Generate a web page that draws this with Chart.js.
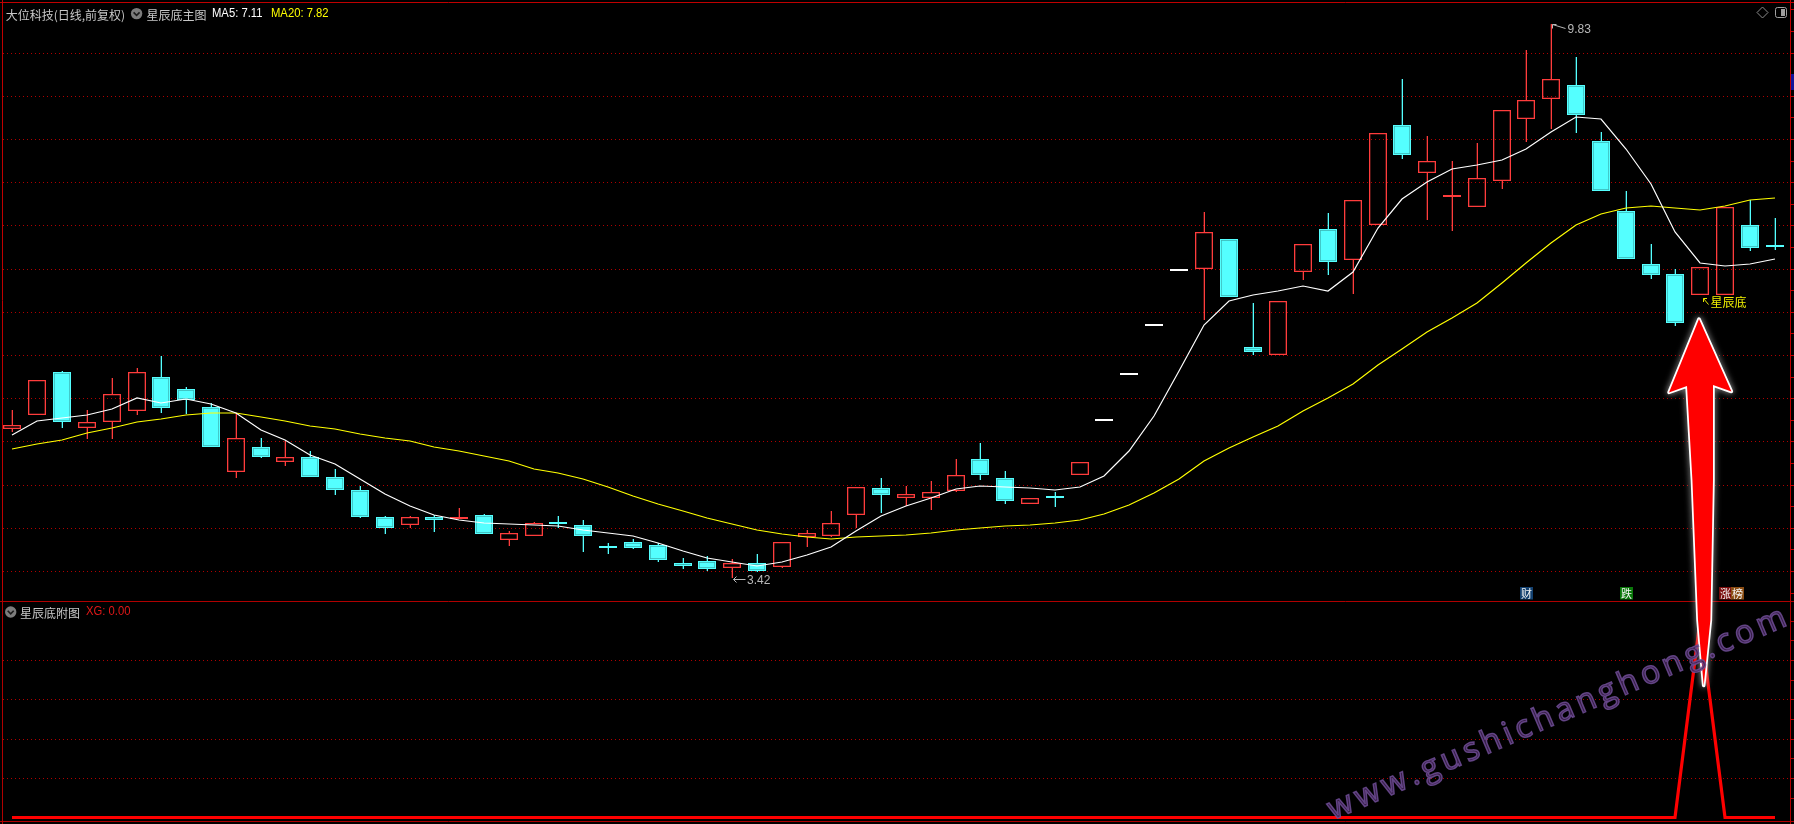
<!DOCTYPE html>
<html>
<head>
<meta charset="utf-8">
<script src="https://cdn.jsdelivr.net/npm/chart.js@4.4.0/dist/chart.umd.min.js"></script>
<style>
  body { margin: 0; background: #000; }
  #wrap { position: relative; width: 1794px; height: 824px; overflow: hidden; background: #000; }
  canvas { position: absolute; left: 0; }
  .t { position: absolute; white-space: nowrap; line-height: 16px; }
  .cjk { font: 12px "Noto Sans CJK SC", sans-serif; }
  .num { font: 12.5px "Liberation Sans", sans-serif; transform: scaleX(0.9); transform-origin: 0 50%; }
</style>
</head>
<body>
<div id="wrap">
  <canvas id="main" width="1794" height="601" style="top:0"></canvas>
  <canvas id="sub" width="1794" height="223" style="top:601px"></canvas>
  <canvas id="over" width="1794" height="824" style="top:0"></canvas>
  <div class="t cjk" style="left:5.7px;top:5.5px;color:#c8c8c8">大位科技(日线,前复权)</div>
  <div class="t cjk" style="left:146.6px;top:5.5px;color:#c8c8c8">星辰底主图</div>
  <div class="t num" id="ma5t" style="left:212.4px;top:5.5px;color:#ffffff"></div>
  <div class="t num" id="ma20t" style="left:271px;top:5.5px;color:#ffff00"></div>
  <div class="t cjk" style="left:19.9px;top:603.5px;color:#c8c8c8">星辰底附图</div>
  <div class="t num" id="xgt" style="left:86px;top:603.5px;color:#e01818"></div>
</div>
<script>
// daily candles
const opens = [
  5.14, 5.31, 5.80, 5.15, 5.22, 5.35, 5.75, 5.61, 5.40, 4.65,
  4.94, 4.76, 4.82, 4.59, 4.44, 4.12, 4.03, 4.12, 4.10, 4.15,
  3.86, 3.90, 4.06, 4.03, 3.79, 3.84, 3.80, 3.59, 3.62, 3.53,
  3.59, 3.55, 3.89, 3.91, 4.15, 4.46, 4.35, 4.35, 4.43, 4.80,
  4.58, 4.28, 4.37, 4.61, 5.24, 5.77, 6.34, 6.97, 7.00, 7.34,
  6.09, 6.00, 6.96, 7.46, 7.10, 7.50, 8.66, 8.11, 7.83, 7.71,
  8.01, 8.73, 8.96, 9.13, 8.48, 7.67, 7.05, 6.94, 6.69, 6.70,
  7.50, 7.27];
const highs = [
  5.36, 5.71, 5.82, 5.36, 5.73, 5.85, 5.99, 5.63, 5.44, 5.33,
  5.04, 5.00, 4.89, 4.68, 4.48, 4.14, 4.14, 4.15, 4.23, 4.16,
  3.96, 4.07, 4.14, 4.09, 3.82, 3.87, 3.82, 3.65, 3.67, 3.64,
  3.70, 3.84, 3.97, 4.19, 4.47, 4.58, 4.48, 4.54, 4.80, 4.98,
  4.66, 4.35, 4.41, 4.76, 5.24, 5.77, 6.34, 6.97, 7.66, 7.34,
  6.60, 6.62, 7.28, 7.64, 7.79, 8.57, 9.19, 8.54, 8.25, 8.45,
  8.84, 9.53, 9.83, 9.45, 8.58, 7.90, 7.28, 7.00, 7.02, 7.71,
  7.79, 7.59];
const lows = [
  5.11, 5.31, 5.15, 5.03, 5.03, 5.31, 5.33, 5.32, 4.94, 4.58,
  4.81, 4.72, 4.59, 4.38, 4.11, 3.93, 4.00, 3.95, 4.10, 3.93,
  3.79, 3.90, 4.00, 3.72, 3.70, 3.75, 3.60, 3.52, 3.50, 3.42,
  3.49, 3.54, 3.78, 3.89, 4.00, 4.17, 4.25, 4.21, 4.41, 4.55,
  4.27, 4.27, 4.24, 4.61, 5.24, 5.77, 6.34, 6.97, 6.41, 6.67,
  6.00, 6.00, 6.87, 6.93, 6.71, 7.50, 8.27, 7.56, 7.43, 7.71,
  7.92, 8.46, 8.62, 8.57, 7.90, 7.11, 6.88, 6.34, 6.69, 6.70,
  7.20, 7.21];
const closes = [
  5.19, 5.71, 5.22, 5.22, 5.55, 5.80, 5.39, 5.48, 4.94, 5.04,
  4.82, 4.82, 4.59, 4.44, 4.12, 4.00, 4.12, 4.09, 4.13, 3.93,
  3.94, 4.05, 4.04, 3.90, 3.77, 3.77, 3.63, 3.56, 3.52, 3.59,
  3.50, 3.84, 3.94, 4.05, 4.47, 4.38, 4.39, 4.42, 4.61, 4.61,
  4.31, 4.35, 4.34, 4.76, 5.24, 5.77, 6.34, 6.97, 7.42, 6.67,
  6.03, 6.62, 7.28, 7.08, 7.79, 8.57, 8.31, 8.24, 7.84, 8.05,
  8.84, 8.95, 9.20, 8.78, 7.90, 7.11, 6.93, 6.37, 7.02, 7.71,
  7.24, 7.25];

const ma5 = [
  5.08, 5.24, 5.27, 5.30, 5.38, 5.50, 5.44, 5.49, 5.43, 5.33,
  5.13, 5.02, 4.84, 4.74, 4.56, 4.39, 4.25, 4.15, 4.09, 4.05,
  4.04, 4.03, 4.02, 3.97, 3.94, 3.91, 3.82, 3.73, 3.65, 3.61,
  3.56, 3.60, 3.68, 3.78, 3.96, 4.14, 4.25, 4.34, 4.45, 4.48,
  4.47, 4.46, 4.44, 4.47, 4.60, 4.89, 5.29, 5.82, 6.35, 6.63,
  6.69, 6.74, 6.80, 6.74, 6.96, 7.47, 7.81, 8.00, 8.15, 8.20,
  8.26, 8.38, 8.58, 8.76, 8.73, 8.39, 7.98, 7.42, 7.07, 7.03,
  7.05, 7.11];
const ma20 = [
  4.91, 4.97, 5.02, 5.10, 5.16, 5.22, 5.26, 5.30, 5.33, 5.33,
  5.28, 5.24, 5.18, 5.14, 5.09, 5.04, 5.00, 4.94, 4.89, 4.83,
  4.77, 4.68, 4.63, 4.56, 4.47, 4.37, 4.28, 4.19, 4.11, 4.04,
  3.98, 3.93, 3.89, 3.87, 3.89, 3.91, 3.92, 3.94, 3.97, 4.00,
  4.02, 4.03, 4.05, 4.09, 4.16, 4.26, 4.40, 4.57, 4.77, 4.92,
  5.05, 5.18, 5.35, 5.50, 5.67, 5.88, 6.07, 6.27, 6.43, 6.60,
  6.83, 7.06, 7.30, 7.50, 7.63, 7.70, 7.73, 7.70, 7.68, 7.73,
  7.79, 7.82];

// sub panel signal (XG)
const xg = [
  0, 0, 0, 0, 0, 0, 0, 0, 0, 0,
  0, 0, 0, 0, 0, 0, 0, 0, 0, 0,
  0, 0, 0, 0, 0, 0, 0, 0, 0, 0,
  0, 0, 0, 0, 0, 0, 0, 0, 0, 0,
  0, 0, 0, 0, 0, 0, 0, 0, 0, 0,
  0, 0, 0, 0, 0, 0, 0, 0, 0, 0,
  0, 0, 0, 0, 0, 0, 0, 0, 1, 0,
  0, 0];

const priceGrid = [3.5, 4.0, 4.5, 5.0, 5.5, 6.0, 6.5, 7.0, 7.5, 8.0, 8.5, 9.0, 9.5];
const subGrid = [0.2, 0.4, 0.6, 0.8];
const signalIndex = 68;          // 星辰底
const markerIndex = [61, 65, 69];
const markerText = ['财', '跌', '涨榜'];

const days = opens.map((_, i) => i);
const UP = '#ff3c3c', DOWN = '#54ffff', FLAT = '#ffffff';
const colorOf = i => closes[i] > opens[i] ? UP : (closes[i] < opens[i] ? DOWN : FLAT);
const badgeBg = { '财': '#12406f', '跌': '#0a780a', '涨': '#7a0c0c', '榜': '#8a4c12' };
const GRID = '#b00000', FRAME = '#c00000';
const xAxis = () => ({ type: 'linear', min: -0.5, max: 71.78, bounds: 'data', offset: false, alignToPixels: true, display: false });

document.getElementById('ma5t').textContent = 'MA5: ' + ma5[ma5.length - 1].toFixed(2);
document.getElementById('ma20t').textContent = 'MA20: ' + ma20[ma20.length - 1].toFixed(2);
document.getElementById('xgt').textContent = 'XG: ' + xg[xg.length - 1].toFixed(2);

function dotted(ctx, y, x0, x1) {
  ctx.beginPath(); ctx.moveTo(x0, y); ctx.lineTo(x1, y); ctx.stroke();
}

function chevron(ctx, cx, cy) {
  ctx.fillStyle = '#7c7c7c';
  ctx.beginPath(); ctx.arc(cx, cy, 5.7, 0, Math.PI * 2); ctx.fill();
  ctx.strokeStyle = '#1c1c1c'; ctx.lineWidth = 1.6;
  ctx.beginPath(); ctx.moveTo(cx - 3, cy - 1.2); ctx.lineTo(cx, cy + 1.8); ctx.lineTo(cx + 3, cy - 1.2); ctx.stroke();
}

const mainDecor = {
  id: 'mainDecor',
  beforeDatasetsDraw(chart) {
    const { ctx, scales: { y } } = chart;
    ctx.save();
    ctx.strokeStyle = GRID; ctx.lineWidth = 1; ctx.setLineDash([1, 3]);
    priceGrid.forEach(v => dotted(ctx, Math.round(y.getPixelForValue(v)) + 0.5, 3, 1790));
    ctx.restore();
  },
  afterDatasetsDraw(chart) {
    const { ctx, scales: { x, y } } = chart;
    ctx.save();
    // frame
    ctx.strokeStyle = FRAME; ctx.lineWidth = 1;
    ctx.beginPath();
    ctx.moveTo(0, 2.5); ctx.lineTo(1794, 2.5);
    ctx.moveTo(2.5, 0); ctx.lineTo(2.5, 601);
    ctx.moveTo(1790.5, 0); ctx.lineTo(1790.5, 601);
    for (let v = 3.25; v < 10.05; v += 0.25) {
      const py = Math.round(y.getPixelForValue(v)) + 0.5;
      ctx.moveTo(1791, py); ctx.lineTo(1794, py);
    }
    ctx.stroke();
    ctx.fillStyle = '#14149a'; ctx.fillRect(1791, 74, 3, 16);

    // highest / lowest price marks
    ctx.strokeStyle = '#b8b8b8'; ctx.fillStyle = '#b8b8b8'; ctx.lineWidth = 1;
    ctx.font = '12px "Liberation Sans", sans-serif'; ctx.textBaseline = 'middle';
    const hi = highs.indexOf(Math.max(...highs));
    const hx = x.getPixelForValue(hi) + 0.5, hy = y.getPixelForValue(highs[hi]) + 0.5;
    ctx.beginPath();
    ctx.moveTo(hx + 1, hy); ctx.lineTo(hx + 14, hy + 4);
    ctx.moveTo(hx + 1, hy); ctx.lineTo(hx + 1, hy + 4);
    ctx.moveTo(hx + 1, hy); ctx.lineTo(hx + 5, hy);
    ctx.stroke();
    ctx.fillText(highs[hi].toFixed(2), hx + 16, hy + 5);
    const lo = lows.indexOf(Math.min(...lows));
    const lx = x.getPixelForValue(lo) + 0.5, ly = y.getPixelForValue(lows[lo]) + 0.5;
    ctx.beginPath();
    ctx.moveTo(lx + 1, ly + 1); ctx.lineTo(lx + 13, ly + 1);
    ctx.moveTo(lx + 1, ly + 1); ctx.lineTo(lx + 4, ly - 2);
    ctx.moveTo(lx + 1, ly + 1); ctx.lineTo(lx + 4, ly + 4);
    ctx.stroke();
    ctx.fillText(lows[lo].toFixed(2), lx + 14.5, ly + 2);

    // 星辰底 signal label
    const sx = x.getPixelForValue(signalIndex) + 0.5, sy = y.getPixelForValue(lows[signalIndex]) + 0.5;
    ctx.strokeStyle = '#e8e800'; ctx.fillStyle = '#f0f000';
    ctx.beginPath();
    ctx.moveTo(sx + 3, sy + 3); ctx.lineTo(sx + 8, sy + 9);
    ctx.moveTo(sx + 3, sy + 3); ctx.lineTo(sx + 3, sy + 6.5);
    ctx.moveTo(sx + 3, sy + 3); ctx.lineTo(sx + 6.5, sy + 3);
    ctx.stroke();
    ctx.font = '12px "Noto Sans CJK SC", sans-serif';
    ctx.fillText('星辰底', sx + 10, sy + 6.5);

    // event badges along the bottom
    ctx.font = '11px "Noto Sans CJK SC", sans-serif'; ctx.textAlign = 'center';
    markerIndex.forEach((idx, k) => {
      const cx = x.getPixelForValue(idx);
      [...markerText[k]].forEach((ch, j) => {
        const left = Math.round(cx - 6.5 + j * 12.7);
        ctx.fillStyle = badgeBg[ch]; ctx.fillRect(left, 587, 13, 12.5);
        ctx.fillStyle = '#f4f4f4'; ctx.fillText(ch, left + 6.5, 593.5);
      });
    });

    // header widgets
    chevron(ctx, 136.6, 13.6);
    ctx.strokeStyle = '#8c8c8c'; ctx.lineWidth = 1;
    ctx.beginPath();
    ctx.moveTo(1762.5, 7); ctx.lineTo(1768, 12.5); ctx.lineTo(1762.5, 18); ctx.lineTo(1757, 12.5); ctx.closePath();
    ctx.stroke();
    ctx.strokeStyle = '#a0a0a0';
    ctx.beginPath(); ctx.roundRect(1775.5, 7.5, 11, 10, 2); ctx.stroke();
    ctx.fillStyle = '#a0a0a0'; ctx.fillRect(1781, 9, 4, 7);
    ctx.restore();
  }
};

const subDecor = {
  id: 'subDecor',
  beforeDatasetsDraw(chart) {
    const { ctx, scales: { y } } = chart;
    ctx.save();
    ctx.strokeStyle = GRID; ctx.lineWidth = 1; ctx.setLineDash([1, 3]);
    subGrid.forEach(v => dotted(ctx, Math.round(y.getPixelForValue(v)) + 0.5, 3, 1790));
    ctx.restore();
  },
  afterDatasetsDraw(chart) {
    const { ctx, scales: { y } } = chart;
    ctx.save();
    ctx.strokeStyle = '#b00000'; ctx.lineWidth = 1;
    ctx.beginPath();
    ctx.moveTo(0, 0.5); ctx.lineTo(1794, 0.5);
    ctx.moveTo(0, 220.5); ctx.lineTo(1794, 220.5);
    ctx.moveTo(2.5, 0); ctx.lineTo(2.5, 223);
    ctx.moveTo(1790.5, 0); ctx.lineTo(1790.5, 223);
    for (let v = 0.1; v < 1.05; v += 0.1) {
      const py = Math.round(y.getPixelForValue(v)) + 0.5;
      ctx.moveTo(1791, py); ctx.lineTo(1794, py);
    }
    ctx.stroke();
    chevron(ctx, 10.7, 11);
    ctx.restore();
  }
};

const common = {
  responsive: false,
  animation: false,
  events: [],
  layout: { padding: 0 },
  plugins: { legend: { display: false }, tooltip: { enabled: false } }
};

// wick bars: 2px wide with a transparent left border, so ~1.3px of colour stays visible
const wick = (label, range) => ({
  label,
  data: days.map(i => ({ x: i, y: range(i) })),
  backgroundColor: days.map(colorOf),
  borderColor: 'rgba(0,0,0,0)',
  borderWidth: { left: 0.7, right: 0, top: 0, bottom: 0 }, borderSkipped: false,
  barThickness: 2, grouped: false, inflateAmount: 0, order: 3
});

const mainChart = new Chart(document.getElementById('main'), {
  type: 'bar',
  data: {
    datasets: [
      wick('upper', i => [Math.max(opens[i], closes[i]), highs[i]]),
      wick('lower', i => [lows[i], Math.min(opens[i], closes[i])]),
      {
        label: 'body',
        data: days.map(i => ({ x: i, y: [opens[i], closes[i]] })),
        backgroundColor: days.map(i => closes[i] > opens[i] ? 'rgba(0,0,0,0)' : colorOf(i)),
        borderColor: days.map(colorOf),
        borderWidth: 1.3, borderSkipped: false,
        barThickness: 18, minBarLength: 2, grouped: false, inflateAmount: 0, order: 2
      },
      {
        type: 'line', label: 'MA5',
        data: days.map(i => ({ x: i, y: ma5[i] })),
        borderColor: '#ffffff', borderWidth: 1.2, pointRadius: 0, tension: 0, order: 1
      },
      {
        type: 'line', label: 'MA20',
        data: days.map(i => ({ x: i, y: ma20[i] })),
        borderColor: '#ffff00', borderWidth: 1.2, pointRadius: 0, tension: 0, order: 1
      }
    ]
  },
  options: {
    ...common,
    scales: {
      x: xAxis(),
      y: { type: 'linear', min: 3.153, max: 10.109, bounds: 'data', alignToPixels: true, display: false }
    }
  },
  plugins: [mainDecor]
});

const subChart = new Chart(document.getElementById('sub'), {
  type: 'line',
  data: {
    datasets: [{
      label: 'XG',
      data: days.map(i => ({ x: i, y: xg[i] })),
      borderColor: '#ff0000', borderWidth: 3.2, pointRadius: 0, tension: 0
    }]
  },
  options: {
    ...common,
    scales: {
      x: xAxis(),
      y: { type: 'linear', min: -0.033, max: 1.099, bounds: 'data', display: false }
    }
  },
  plugins: [subDecor]
});

// big arrow pointing at the signal candle, plus the site watermark
function drawOverlay() {
  const c = document.getElementById('over').getContext('2d');
  const mx = mainChart.scales.x, my = mainChart.scales.y, sy = subChart.scales.y;
  const tx = mx.getPixelForValue(signalIndex) - 1;
  const ty = my.getPixelForValue(lows[signalIndex]) + 24;
  const tailY = 601 + sy.getPixelForValue(xg[signalIndex]) + 65;
  const tailX = tx + 4.7;
  c.save();
  c.beginPath();
  c.moveTo(tx, ty);
  c.lineTo(tx + 32.4, ty + 72.5);
  c.lineTo(tx + 14, ty + 66);
  c.lineTo(tx + 14, ty + 161);
  c.lineTo(tx + 11.4, ty + 301);
  c.lineTo(tailX, tailY);
  c.lineTo(tx - 1, ty + 301);
  c.lineTo(tx - 6.6, ty + 161);
  c.lineTo(tx - 12, ty + 67);
  c.lineTo(tx - 30, ty + 73.4);
  c.closePath();
  c.lineJoin = 'round';
  c.shadowColor = 'rgba(200,200,200,0.9)'; c.shadowBlur = 6;
  c.strokeStyle = '#ffffff'; c.lineWidth = 3.5; c.stroke();
  c.shadowBlur = 0;
  c.fillStyle = '#ff0000'; c.fill();
  c.restore();

  c.save();
  c.beginPath(); c.rect(3, 602, 1787, 219); c.clip();
  c.translate(1333, 820);
  c.rotate(-23.2 * Math.PI / 180);
  c.font = '32px "Open Sans", sans-serif';
  c.textBaseline = 'alphabetic';
  c.fillStyle = 'rgba(62,34,80,0.9)';
  c.strokeStyle = 'rgba(112,78,150,0.85)';
  c.lineWidth = 1.5;
  let pos = 0;
  for (const ch of 'www.gushichanghong.com') {
    c.fillText(ch, pos, 0);
    c.strokeText(ch, pos, 0);
    pos += c.measureText(ch).width + 4.5;
  }
  c.restore();
}
drawOverlay();
</script>
</body>
</html>
